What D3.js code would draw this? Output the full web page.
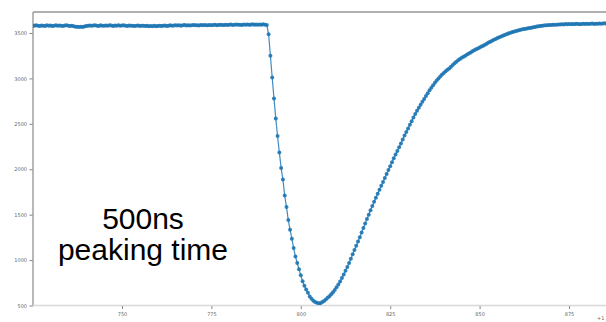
<!DOCTYPE html>
<html>
<head>
<meta charset="utf-8">
<script src="https://cdn.jsdelivr.net/npm/d3@7"></script>
<style>
  body { margin: 0; background: #fff; }
  svg { display: block; }
</style>
</head>
<body>
<svg id="svg" width="606" height="322"></svg>
<script>
// sample times (ns) start and spacing
const t0 = 725;
const dt = 0.5;

// flat baseline before the pulse
const baseline = [
  3582, 3579, 3584, 3580, 3577, 3583, 3581, 3578, 3585, 3580, 3582, 3576, 3581, 3584, 3579, 3583, 3580, 3578, 3582, 3585, 3579,
  3577, 3581, 3574, 3570, 3568, 3566, 3569, 3565, 3571, 3576, 3580, 3583, 3579, 3582, 3585, 3580, 3578, 3584, 3581, 3579, 3583,
  3580, 3585, 3582, 3578, 3583, 3581, 3586, 3579, 3582, 3584, 3580, 3577, 3582, 3579, 3581, 3576, 3580, 3583, 3578, 3581, 3579,
  3576, 3580, 3574, 3578, 3575, 3579, 3573, 3577, 3580, 3576, 3579, 3582, 3578, 3581, 3584, 3580, 3583, 3586, 3582, 3585, 3581,
  3584, 3587, 3583, 3586, 3582, 3585, 3588, 3584, 3586, 3583, 3587, 3585, 3589, 3586, 3584, 3588, 3585, 3587, 3590, 3586, 3588,
  3591, 3587, 3589, 3592, 3588, 3590, 3593, 3589, 3591, 3594, 3590, 3592, 3589, 3593, 3591, 3594, 3590, 3592, 3595, 3591, 3593,
  3590, 3594, 3592, 3595, 3591, 3589
];

// falling edge
const fall = [
  3486, 3250, 3010, 2780, 2560, 2365, 2185, 2015, 1886, 1710,
  1584, 1440, 1335, 1236, 1132, 1040, 968, 898, 832, 768,
  718, 675, 640, 599, 573, 552, 538, 529, 524
];

// recovery
const rise = [
  526, 538, 550, 566, 584, 601, 624, 647, 671, 701,
  731, 763, 802, 841, 882, 925, 969, 1015, 1063, 1110,
  1158, 1205, 1252, 1303, 1354, 1404, 1452, 1500, 1548, 1595,
  1642, 1687, 1730, 1773, 1817, 1861, 1904, 1948, 1991, 2034,
  2077, 2121, 2162, 2202, 2242, 2284, 2327, 2371, 2410, 2450,
  2489, 2529, 2569, 2607, 2643, 2678, 2711, 2743, 2774, 2806,
  2837, 2869, 2897, 2925, 2952, 2976, 2999, 3022, 3042, 3061,
  3079, 3095, 3110, 3129, 3149, 3168, 3184, 3200, 3215, 3227,
  3239, 3250, 3262, 3274, 3286, 3298, 3310, 3320, 3330, 3340,
  3351, 3361, 3372, 3383, 3395, 3405, 3415, 3425, 3435, 3444,
  3454, 3462, 3470, 3478, 3486, 3494, 3501, 3507, 3513, 3519,
  3525, 3531, 3536, 3540, 3543, 3547, 3551, 3555, 3559, 3563,
  3567, 3571, 3575, 3578, 3580, 3582, 3584, 3586, 3588, 3589,
  3590, 3591, 3592, 3593, 3594
];

// settled tail
const tail = [
  3596, 3593, 3598, 3595, 3599, 3596, 3600, 3597, 3601, 3598,
  3596, 3600, 3603, 3599, 3601, 3598, 3602, 3604, 3600, 3603,
  3601, 3605, 3602, 3604, 3606, 3603, 3605, 3602, 3606
];

const xTicks = [750, 775, 800, 825, 850, 875];
const yTicks = [500, 1000, 1500, 2000, 2500, 3000, 3500];
const label = ["500ns", "peaking time"];

const values = baseline.concat(fall, rise, tail);
const data = values.map((v, i) => ({ t: t0 + i * dt, v: v }));

const svg = d3.select('#svg');
const pl = 33, pr = 606, pt = 12, pb = 305.5;

const x = d3.scaleLinear().domain([750, 875]).range([122, 569]);
const y = d3.scaleLinear().domain([500, 3500]).range([pb, 33]);

svg.append('defs').append('clipPath').attr('id', 'clip')
  .append('rect').attr('x', pl).attr('y', pt).attr('width', pr - pl + 40).attr('height', pb - pt + 2);

// x axis
const xAxis = svg.append('g').attr('transform', `translate(0,${pb})`)
  .call(d3.axisBottom(x).tickValues(xTicks).tickSize(3.5).tickPadding(3).tickFormat(d3.format('d')));
xAxis.select('.domain').remove();
xAxis.selectAll('line').attr('stroke', '#666').attr('stroke-width', 0.8);
xAxis.selectAll('text').attr('fill', '#666').style('font-family', 'DejaVu Sans').style('font-size', '5px');

// y axis
const yAxis = svg.append('g').attr('transform', `translate(${pl},0)`)
  .call(d3.axisLeft(y).tickValues(yTicks).tickSize(3.5).tickPadding(2.5).tickFormat(d3.format('d')));
yAxis.select('.domain').remove();
yAxis.selectAll('line').attr('stroke', '#666').attr('stroke-width', 0.8);
yAxis.selectAll('text').attr('fill', '#666').style('font-family', 'DejaVu Sans').style('font-size', '5px');

// spines
svg.append('line').attr('x1', pl).attr('x2', pr).attr('y1', pt).attr('y2', pt)
  .attr('stroke', '#b0b0b0').attr('stroke-width', 2);
svg.append('line').attr('x1', pl).attr('x2', pl).attr('y1', pt).attr('y2', pb)
  .attr('stroke', '#a0a0a0').attr('stroke-width', 1.5);
svg.append('line').attr('x1', pl).attr('x2', pr).attr('y1', pb).attr('y2', pb)
  .attr('stroke', '#d8d8d8').attr('stroke-width', 1.5);

// offset text in the corner
svg.append('text').attr('x', 597).attr('y', 320).text('+1')
  .attr('fill', '#666').style('font-family', 'DejaVu Sans').style('font-size', '5px');

const plot = svg.append('g').attr('clip-path', 'url(#clip)');

const line = d3.line().x(d => x(d.t)).y(d => y(d.v));
plot.append('path').datum(data).attr('d', line)
  .attr('fill', 'none').attr('stroke', '#1f77b4').attr('stroke-width', 1.2).attr('opacity', 0.85);

plot.selectAll('circle').data(data).enter().append('circle')
  .attr('cx', d => x(d.t)).attr('cy', d => y(d.v)).attr('r', 2)
  .attr('fill', '#1f77b4').attr('opacity', 0.9);

// annotation
svg.append('text').attr('x', 143).attr('text-anchor', 'middle')
  .style('font-family', 'Liberation Sans, Arial, sans-serif').style('font-size', '30px').attr('fill', '#000')
  .selectAll('tspan').data(label).enter().append('tspan')
  .attr('x', 143).attr('y', (d, i) => 229 + i * 31).text(d => d);
</script>
</body>
</html>
